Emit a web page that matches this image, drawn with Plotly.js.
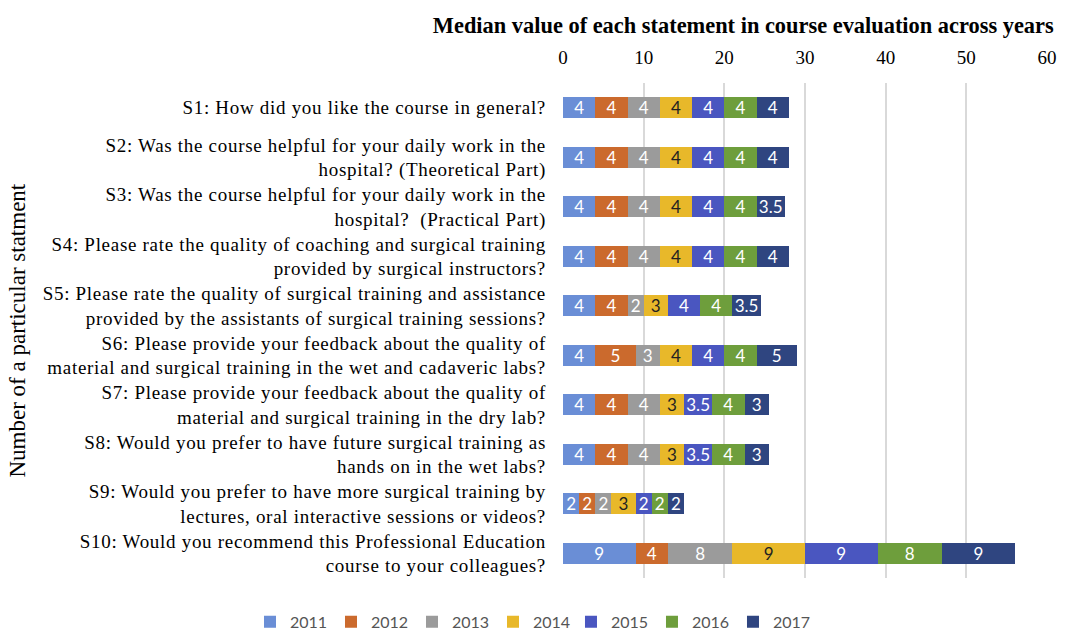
<!DOCTYPE html>
<html>
<head>
<meta charset="utf-8">
<script src="https://cdn.plot.ly/plotly-3.0.1.min.js"></script>
<style>html,body{margin:0;padding:0;background:#fff;}#chart{width:1071px;height:630px;}
.ytick text{letter-spacing:0.7px;}</style>
</head>
<body>
<div id="chart"></div>
<script>
const statements = [
  "S1: How did you like the course in general?",
  "S2: Was the course helpful for your daily work in the<br>hospital? (Theoretical Part)",
  "S3: Was the course helpful for your daily work in the<br>hospital?  (Practical Part)",
  "S4: Please rate the quality of coaching and surgical training<br>provided by surgical instructors?",
  "S5: Please rate the quality of surgical training and assistance<br>provided by the assistants of surgical training sessions?",
  "S6: Please provide your feedback about the quality of<br>material and surgical training in the wet and cadaveric labs?",
  "S7: Please provide your feedback about the quality of<br>material and surgical training in the dry lab?",
  "S8: Would you prefer to have future surgical training as<br>hands on in the wet labs?",
  "S9: Would you prefer to have more surgical training by<br>lectures, oral interactive sessions or videos?",
  "S10: Would you recommend this Professional Education<br>course to your colleagues?"
];
const years = ["2011","2012","2013","2014","2015","2016","2017"];
const v2011 = [4,4,4,4,4,4,4,4,2,9];
const v2012 = [4,4,4,4,4,5,4,4,2,4];
const v2013 = [4,4,4,4,2,3,4,4,2,8];
const v2014 = [4,4,4,4,3,4,3,3,3,9];
const v2015 = [4,4,4,4,4,4,3.5,3.5,2,9];
const v2016 = [4,4,4,4,4,4,4,4,2,8];
const v2017 = [4,4,3.5,4,3.5,5,3,3,2,9];
const series = [v2011,v2012,v2013,v2014,v2015,v2016,v2017];
const colors = ["#6A8ED6","#CB6A2D","#9B9B9B","#E8B82A","#4A56C0","#6E9E3C","#2F4580"];
const textColors = ["#fff","#fff","#fff","#222","#fff","#fff","#fff"];

const traces = series.map((vals,i)=>({
  type:'bar', orientation:'h', name:years[i],
  legend: i < 4 ? 'legend' : 'legend2',
  x: vals, y: statements,
  marker:{color:colors[i], line:{width:0}},
  width:0.43,
  text: vals.map(String), textposition:'inside', insidetextanchor:'middle',
  textangle:0, constraintext:'none', cliponaxis:false,
  textfont:{family:'Lato, "Open Sans", sans-serif', size:17, color:textColors[i]},
  hoverinfo:'x+name'
}));

const serif = '"Liberation Serif", "Times New Roman", serif';
const legendBase = {orientation:'h', xanchor:'left', xref:'paper', yref:'container', y:0.013, yanchor:'middle',
  entrywidth:36, entrywidthmode:'pixels', itemwidth:30, traceorder:'normal',
  font:{family:'Lato, "Open Sans", sans-serif', size:16, color:'#555'}};
const layout = {
  width:1071, height:630,
  barmode:'stack',
  margin:{l:563, r:24, t:83, b:52},
  paper_bgcolor:'#fff', plot_bgcolor:'#fff',
  title:{text:'<b>Median value of each statement in course evaluation across years</b>',
    font:{family:serif, size:22.4, color:'#000'},
    xref:'container', x:0.694, xanchor:'center', yref:'container', y:0.96, yanchor:'middle'},
  xaxis:{side:'top', range:[0,60], dtick:10, showgrid:true, gridcolor:'#D9D9D9', gridwidth:2,
    zeroline:false, showline:false, ticks:'', automargin:false, ticklabelstandoff:14,
    tickfont:{family:serif, size:19, color:'#000'}},
  yaxis:{range:[9.5,-0.5], showgrid:false, zeroline:false, showline:false, ticks:'',
    automargin:false, ticklabelstandoff:16,
    tickfont:{family:serif, size:19, color:'#000'}},
  annotations:[{text:'Number of a particular statment', textangle:-90,
    xref:'paper', x:-1.128, xanchor:'center', yref:'paper', y:0.5, yanchor:'middle',
    showarrow:false, font:{family:serif, size:23, color:'#000'}}],
  showlegend:true,
  legend:Object.assign({}, legendBase, {x:-0.6467}),
  legend2:Object.assign({}, legendBase, {x:0.0165})
};
Plotly.newPlot('chart', traces, layout, {displayModeBar:false, staticPlot:true});
</script>
</body>
</html>
